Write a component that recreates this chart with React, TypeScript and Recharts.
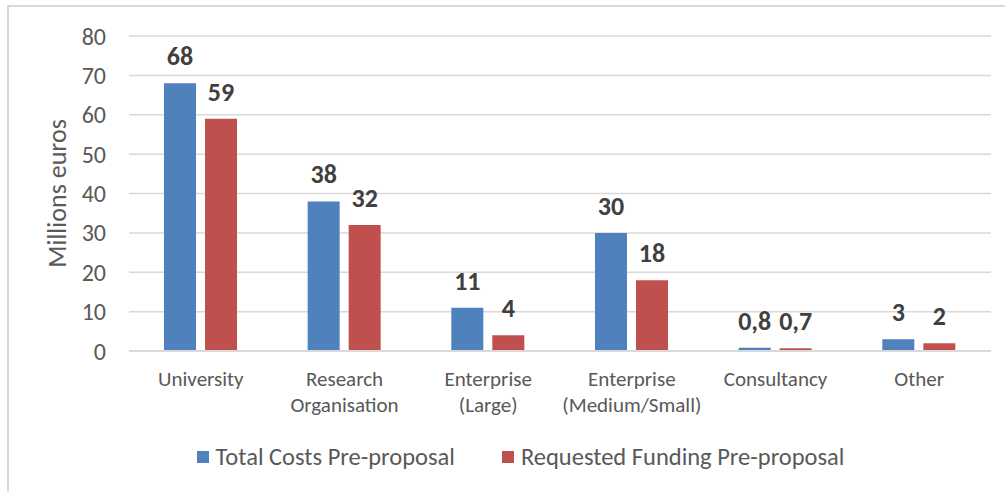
import React from 'react';
import { BarChart, Bar, XAxis, YAxis, CartesianGrid, LabelList, Legend } from 'recharts';

const categories = ['University', 'Research\nOrganisation', 'Enterprise\n(Large)', 'Enterprise\n(Medium/Small)', 'Consultancy', 'Other'];
const totalCosts = [68, 38, 11, 30, 0.8, 3];
const requestedFunding = [59, 32, 4, 18, 0.7, 2];
const yTicks = [0, 10, 20, 30, 40, 50, 60, 70, 80];
const seriesNames = ['Total Costs Pre-proposal', 'Requested Funding Pre-proposal'];
const colors = ['#4F81BD', '#C0504D'];

const data = categories.map((c, i) => ({ name: c, total: totalCosts[i], requested: requestedFunding[i] }));

const FONT = 'Carlito, Lato, Calibri, sans-serif';

const XTick = (props: any) => {
  const { x, y, payload } = props;
  const lines = String(payload.value).split('\n');
  return (
    <g transform={`translate(${x},${y})`}>
      {lines.map((l: string, i: number) => (
        <text key={i} x={0} y={35 + i * 26} textAnchor="middle" fill="#595959" fontSize={21} fontFamily={FONT}>
          {l}
        </text>
      ))}
    </g>
  );
};

const fmt = (v: any) => String(v).replace('.', ',');

const LegendContent = () => (
  <div style={{ display: 'flex', justifyContent: 'center', fontFamily: FONT, fontSize: 24.5, lineHeight: '30px', color: '#595959' }}>
    {seriesNames.map((n, i) => (
      <div key={n} style={{ display: 'flex', alignItems: 'center', marginRight: i === 0 ? 47 : 0 }}>
        <div style={{ width: 12, height: 12, background: colors[i], marginRight: 7 }} />
        <span>{n}</span>
      </div>
    ))}
  </div>
);

export default function App() {
  return (
    <div style={{ position: 'absolute', left: 0, top: 0, width: 1005, height: 492, background: '#fff', overflow: 'hidden' }}>
      <div style={{ position: 'absolute', left: 7, top: 5, width: 1100, height: 600, borderLeft: '2px solid #d9d9d9', borderTop: '2px solid #d9d9d9' }} />
      <BarChart width={1005} height={492} data={data} margin={{ top: 36, right: 14, bottom: 0, left: 59 }} barGap={9} barSize={32}>
        <CartesianGrid vertical={false} stroke="#d9d9d9" strokeWidth={1.5} />
        <XAxis dataKey="name" interval={0} tick={<XTick />} tickLine={false} axisLine={{ stroke: '#d9d9d9', strokeWidth: 2 }} height={141} tickMargin={0} tickSize={0} />
        <YAxis
          domain={[0, 80]}
          ticks={yTicks}
          width={70}
          tickLine={false}
          axisLine={false}
          tickSize={0}
          tickMargin={23}
          tick={{ fill: '#595959', fontSize: 24, fontFamily: FONT }}
          label={{ value: 'Millions euros', angle: -90, position: 'insideLeft', dx: -7, fill: '#595959', fontSize: 26, fontFamily: FONT, style: { textAnchor: 'middle' } }}
        />
        <Legend content={<LegendContent />} verticalAlign="middle" align="center" layout="horizontal" wrapperStyle={{ top: 442, left: 18, width: 1005 }} />
        <Bar dataKey="total" name={seriesNames[0]} fill={colors[0]} isAnimationActive={false}>
          <LabelList dataKey="total" position="top" offset={18} formatter={fmt} fill="#404040" fontSize={26} fontWeight="bold" fontFamily={FONT} />
        </Bar>
        <Bar dataKey="requested" name={seriesNames[1]} fill={colors[1]} isAnimationActive={false}>
          <LabelList dataKey="requested" position="top" offset={18} formatter={fmt} fill="#404040" fontSize={26} fontWeight="bold" fontFamily={FONT} />
        </Bar>
      </BarChart>
    </div>
  );
}
